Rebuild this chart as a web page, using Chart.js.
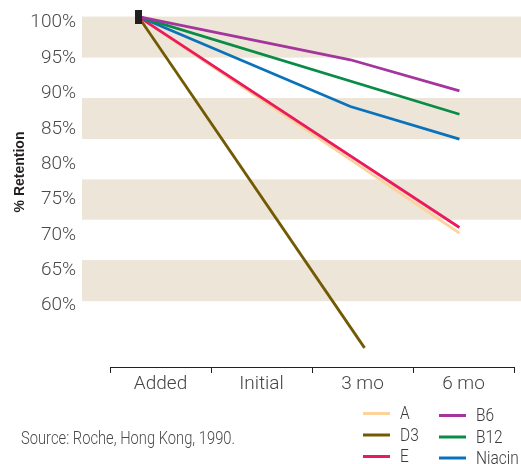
<!DOCTYPE html>
<html>
<head>
<meta charset="utf-8">
<title>% Retention</title>
<style>
  html, body { margin: 0; padding: 0; background: #ffffff; }
  #c { display: block; }
</style>
<script src="https://cdn.jsdelivr.net/npm/chart.js@4/dist/chart.umd.min.js"></script>
</head>
<body>
<canvas id="c" width="521" height="464"></canvas>
<script>
// Storage stages along the bottom axis
const stageLabels = ['Added', 'Initial', '3 mo', '6 mo'];
// Retention tick values (%)
const retentionTicks = [100, 95, 90, 85, 80, 75, 70, 65, 60];

// Where each reading sits along the stage axis (0 = Added … 3 = 6 mo)
const readingAt = [-0.22, 1.88, 2.96];
const d3ReadingAt = [-0.22, 2.02];

// % retention per vitamin at each reading (null = no reading)
const vitaminA   = [100, null, 69.4];
const vitaminD3  = [100, 53.2];
const vitaminE   = [100, null, 70.2];
const vitaminB6  = [100, 93.9, 89.5];
const vitaminB12 = [100, null, 86.2];
const niacin     = [100, 87.3, 82.7];

// Shaded background bands (% ranges)
const shadedBands = [[94.2, 100], [82.7, 88.5], [71.3, 77.0], [59.8, 65.6]];

// Legend columns
const legendColumns = [['A', 'D3', 'E'], ['B6', 'B12', 'Niacin']];
const sourceNote = 'Source: Roche, Hong Kong, 1990.';
const yTitle = '% Retention';

const pts = (xs, ys) => ys.map((v, i) => ({ x: xs[i], y: v }));

// Small black block marking the starting point
const startMark = document.createElement('canvas');
startMark.width = 7;
startMark.height = 14;
(function () {
  const g = startMark.getContext('2d');
  g.fillStyle = '#231f20';
  g.fillRect(0, 0, 7, 14);
})();

function lineSet(label, color, xs, ys) {
  return {
    label: label,
    data: pts(xs, ys),
    xAxisID: 'xv',
    yAxisID: 'y',
    borderColor: color,
    backgroundColor: color,
    borderWidth: 2.8,
    pointRadius: 0,
    tension: 0,
    spanGaps: true,
    fill: false,
    clip: false
  };
}

const datasets = [
  {
    label: 'start',
    data: [{ x: readingAt[0], y: 100 }],
    xAxisID: 'xv',
    yAxisID: 'y',
    showLine: false,
    pointStyle: startMark,
    pointRadius: 4,
    clip: false
  },
  lineSet('B6', '#a3359c', readingAt, vitaminB6),
  lineSet('B12', '#0a8c48', readingAt, vitaminB12),
  lineSet('Niacin', '#0a72bb', readingAt, niacin),
  lineSet('E', '#ea1b5d', readingAt, vitaminE),
  lineSet('A', '#fdd29c', readingAt, vitaminA),
  lineSet('D3', '#725a05', d3ReadingAt, vitaminD3)
];

const bandsPlugin = {
  id: 'bands',
  beforeDatasetsDraw(chart) {
    const { ctx } = chart;
    const y = chart.scales.y;
    ctx.save();
    ctx.fillStyle = '#ede6d8';
    shadedBands.forEach(([lo, hi]) => {
      const top = y.getPixelForValue(hi);
      const bot = y.getPixelForValue(lo);
      ctx.fillRect(82, top, chart.width - 82, bot - top);
    });
    ctx.restore();
  }
};

function condensedText(ctx, text, x, y, squeeze) {
  ctx.save();
  ctx.translate(x, y);
  ctx.scale(squeeze, 1);
  ctx.fillText(text, 0, 0);
  ctx.restore();
}

const extrasPlugin = {
  id: 'extras',
  afterDraw(chart) {
    const { ctx } = chart;
    ctx.save();

    // Axis title
    ctx.fillStyle = '#231f20';
    ctx.font = 'bold 14px "Liberation Sans", Arial, sans-serif';
    ctx.textAlign = 'center';
    ctx.textBaseline = 'middle';
    ctx.translate(20.5, 172);
    ctx.rotate(-Math.PI / 2);
    ctx.fillText(yTitle, 0, 0);
    ctx.restore();

    // Source note
    ctx.save();
    ctx.fillStyle = '#4a4a4a';
    ctx.font = '300 18px Roboto, "Liberation Sans", sans-serif';
    ctx.textAlign = 'left';
    ctx.textBaseline = 'middle';
    const w = ctx.measureText(sourceNote).width;
    condensedText(ctx, sourceNote, 21, 439, 214 / w);
    ctx.restore();

    // Legend
    ctx.save();
    ctx.font = '300 18px Roboto, "Liberation Sans", sans-serif';
    ctx.textAlign = 'left';
    ctx.textBaseline = 'middle';
    const colX = [363, 439];
    const rowY = [[413.5, 435, 456.5], [415.5, 437, 458]];
    legendColumns.forEach((col, ci) => {
      col.forEach((name, ri) => {
        const ds = chart.data.datasets.find(d => d.label === name);
        const yy = rowY[ci][ri];
        ctx.strokeStyle = ds.borderColor;
        ctx.lineWidth = 3;
        ctx.beginPath();
        ctx.moveTo(colX[ci], yy);
        ctx.lineTo(colX[ci] + 27, yy);
        ctx.stroke();
        ctx.fillStyle = '#3a3a3a';
        condensedText(ctx, name, colX[ci] + 37, yy + 1, 0.86);
      });
    });
    ctx.restore();
  }
};

new Chart(document.getElementById('c'), {
  type: 'line',
  data: { datasets: datasets },
  plugins: [bandsPlugin, extrasPlugin],
  options: {
    responsive: false,
    animation: false,
    events: [],
    layout: { padding: { top: 9.5, right: 7, bottom: 60, left: 0 } },
    plugins: {
      legend: { display: false },
      tooltip: { enabled: false }
    },
    scales: {
      x: {
        type: 'category',
        labels: stageLabels,
        position: 'bottom',
        offset: true,
        grid: {
          display: true,
          offset: true,
          drawOnChartArea: false,
          drawTicks: true,
          tickLength: 6,
          color: '#231f20',
          lineWidth: 1
        },
        border: { display: true, color: '#231f20', width: 1 },
        ticks: {
          color: '#444444',
          font: { family: 'Roboto', size: 19, weight: 300 },
          padding: 0,
          maxRotation: 0,
          autoSkip: false
        },
        afterFit(s) { s.height = 37; s.paddingLeft = 0; s.paddingRight = 0; }
      },
      xv: {
        type: 'linear',
        display: false,
        min: -0.5,
        max: 3.5
      },
      y: {
        type: 'linear',
        min: 50.5,
        max: 101,
        position: 'left',
        afterBuildTicks(s) { s.ticks = retentionTicks.map(v => ({ value: v })); },
        grid: { display: false, drawTicks: false },
        border: { display: false },
        ticks: {
          callback: v => v + '%',
          padding: 34,
          labelOffset: 6,
          color: '#4a4a4a',
          font: { family: 'Roboto', size: 19, weight: 300 }
        },
        afterFit(s) { s.width = 110; s.paddingTop = 0; s.paddingBottom = 0; }
      }
    }
  }
});
</script>
</body>
</html>
